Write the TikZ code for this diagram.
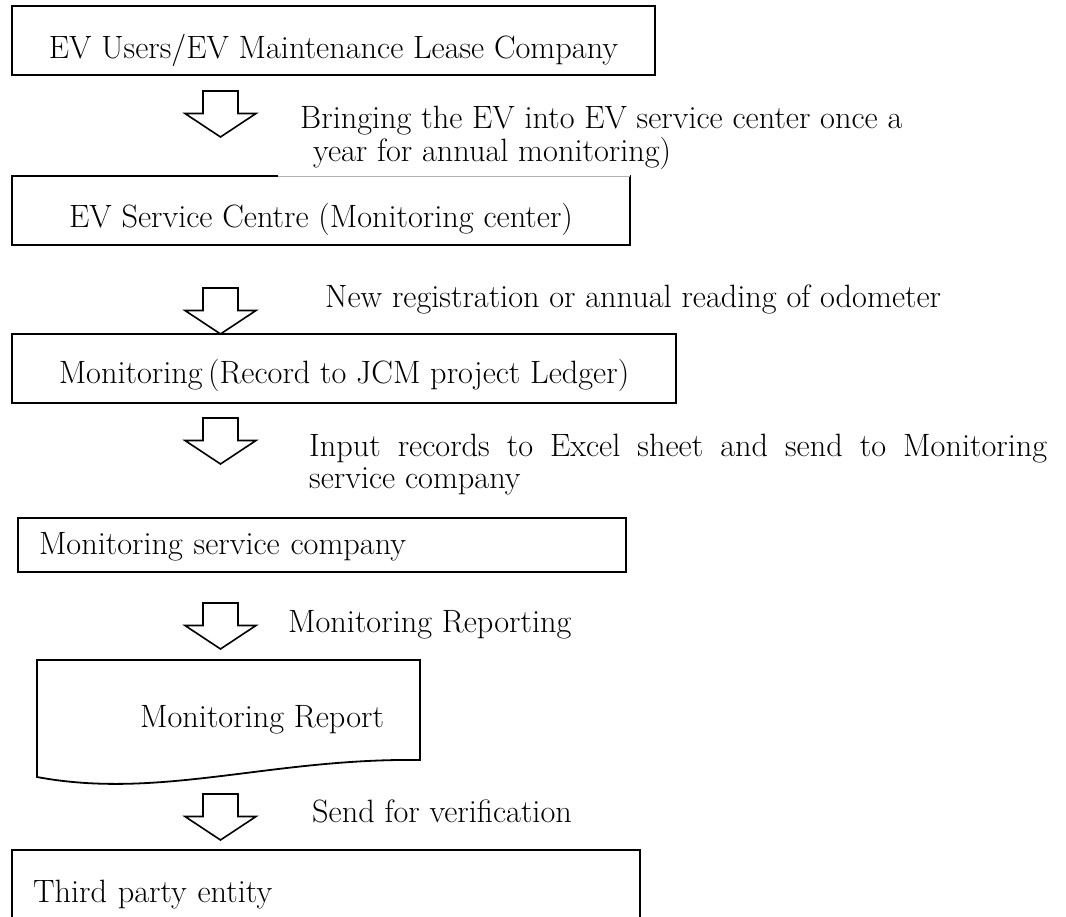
\documentclass[tikz,border=0pt]{standalone}
\begin{document}
\begin{tikzpicture}[x=1pt,y=-1pt,font=\fontsize{32.3}{33}\selectfont,
  stage/.style={draw,line width=1.8pt,inner sep=0pt,outer sep=0pt,anchor=base},
  note/.style={inner sep=0pt,align=left},
  blockarrow/.style={draw,line width=1.6pt,line join=miter}]
\useasboundingbox (0,0) rectangle (1066,917);
\clip (0,0) rectangle (1066,917);
% boxes of the flow
\node[stage,minimum width=643pt,text height=53pt,text depth=16pt] (users) at (333.5,59) {EV Users/EV Maintenance Lease Company};
\node[stage,minimum width=618pt,text height=52pt,text depth=17pt] (centre) at (321,228) {EV Service Centre (Monitoring center)};
\draw[white,line width=2.4pt] ([xshift=266pt]centre.north west) -- (centre.north east);
\draw[black!30,line width=0.6pt] ([xshift=266pt]centre.north west) -- (centre.north east);
\node[stage,minimum width=664pt,text height=50pt,text depth=19pt] (ledger) at (344,384) {Monitoring\,(Record to JCM project Ledger)};
\node[stage,minimum width=608pt,text width=566pt,align=left,text height=36pt,text depth=18pt] (service) at (322,554) {Monitoring service company};
\node[inner sep=0pt,anchor=base west] (report) at (140,727) {Monitoring Report};
\draw[line width=1.8pt] (37,777) -- (37,660) -- (420,660) -- (420,760) .. controls (270,758) and (160,800) .. (37,777) -- cycle;
\node[stage,minimum width=628pt,text width=586pt,align=left,text height=52pt,text depth=40pt] (third) at (326,902) {Third party entity};
% hollow down arrows
\foreach \n/\t in {a1/91,a2/288,a3/418,a4/603,a5/794}{
  \coordinate (\n) at (220.5,\t);
  \draw[blockarrow] (\n) ++(-17.5,0) -- ++(35,0) -- ++(0,22.5) -- ++(18,0)
    -- ++(-35.5,23.5) -- ++(-35.5,-23.5) -- ++(18,0) -- cycle;
}
% step notes
\node[note,anchor=north west] (bring) at (300,105.6) {Bringing the EV into EV service center once a\\\hspace*{13pt}year for annual monitoring)};
\node[note,anchor=base west] (odo) at (325,308) {New registration or annual reading of odometer};
\node[note,anchor=north west,text width=738pt,align=justify,font=\fontsize{32.3}{32}\selectfont] (excel) at (309,433.6) {Input records to Excel sheet and send to Monitoring\linebreak service company};
\node[note,anchor=base west] (rep) at (288,632) {Monitoring Reporting};
\node[note,anchor=base west] (verif) at (312,822) {Send for verification};
\end{tikzpicture}
\end{document}
